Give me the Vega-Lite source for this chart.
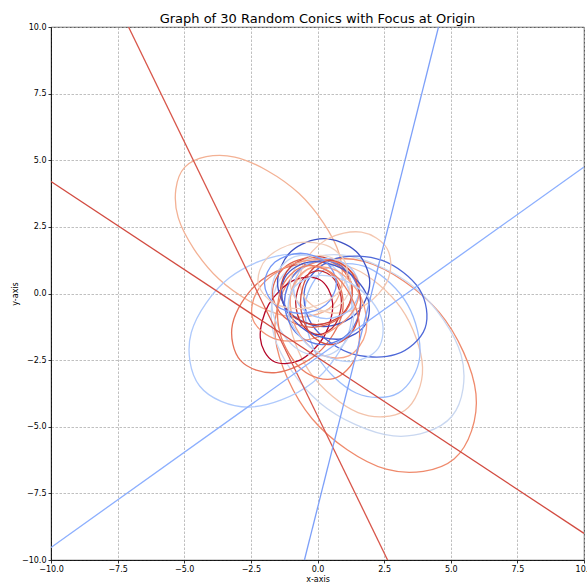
{
  "$schema": "https://vega.github.io/schema/vega-lite/v6.json",
  "width": 533,
  "height": 533,
  "autosize": {"type": "none"},
  "padding": {"left": 51, "top": 27, "right": 3, "bottom": 22},
  "background": "white",
  "title": {"text": "Graph of 30 Random Conics with Focus at Origin", "fontSize": 13, "fontWeight": "normal", "font": "DejaVu Sans", "color": "#000", "anchor": "middle", "offset": -3},
  "config": {
    "font": "DejaVu Sans",
    "view": {"stroke": "#000", "strokeWidth": 0.8},
    "axis": {"labelFontSize": 8, "titleFontSize": 8, "titleFontWeight": "normal", "labelColor": "#000", "titleColor": "#000", "tickColor": "#000", "tickSize": 3, "tickWidth": 0.8, "domainColor": "#000", "domainWidth": 0.8, "grid": true, "gridDash": [2.5, 1.5], "gridColor": "#b0b0b0", "gridWidth": 0.8, "labelPadding": 2, "titlePadding": 2, "labelFlush": false, "labelOverlap": false, "labelFont": "DejaVu Sans", "titleFont": "DejaVu Sans"}
  },
  "datasets": {
    "ell": [
      {"id":"e01","i":0,"x":0.579,"y":-0.442},{"id":"e01","i":1,"x":0.826,"y":1.455},{"id":"e01","i":2,"x":-0.7,"y":3.759},{"id":"e01","i":3,"x":-3.104,"y":5.121},{"id":"e01","i":4,"x":-4.979,"y":4.742},{"id":"e01","i":5,"x":-5.226,"y":2.845},{"id":"e01","i":6,"x":-3.7,"y":0.541},{"id":"e01","i":7,"x":-1.296,"y":-0.821},
      {"id":"e02","i":0,"x":5.124,"y":-6.208},{"id":"e02","i":1,"x":5.946,"y":-3.767},{"id":"e02","i":2,"x":4.562,"y":-0.701},{"id":"e02","i":3,"x":1.783,"y":1.194},{"id":"e02","i":4,"x":-0.764,"y":0.808},{"id":"e02","i":5,"x":-1.586,"y":-1.633},{"id":"e02","i":6,"x":-0.202,"y":-4.699},{"id":"e02","i":7,"x":2.577,"y":-6.594},
      {"id":"e03","i":0,"x":5.044,"y":-4.605},{"id":"e03","i":1,"x":5.39,"y":-2.311},{"id":"e03","i":2,"x":3.68,"y":0.195},{"id":"e03","i":3,"x":0.916,"y":1.444},{"id":"e03","i":4,"x":-1.284,"y":0.705},{"id":"e03","i":5,"x":-1.63,"y":-1.589},{"id":"e03","i":6,"x":0.08,"y":-4.095},{"id":"e03","i":7,"x":2.844,"y":-5.344},
      {"id":"e04","i":0,"x":3.271,"y":-4.39},{"id":"e04","i":1,"x":3.942,"y":-2.772},{"id":"e04","i":2,"x":3.142,"y":-0.561},{"id":"e04","i":3,"x":1.339,"y":0.948},{"id":"e04","i":4,"x":-0.411,"y":0.87},{"id":"e04","i":5,"x":-1.082,"y":-0.748},{"id":"e04","i":6,"x":-0.282,"y":-2.959},{"id":"e04","i":7,"x":1.521,"y":-4.468},
      {"id":"e05","i":0,"x":3.04,"y":-3.728},{"id":"e05","i":1,"x":3.839,"y":-2.354},{"id":"e05","i":2,"x":3.379,"y":-0.415},{"id":"e05","i":3,"x":1.93,"y":0.953},{"id":"e05","i":4,"x":0.34,"y":0.948},{"id":"e05","i":5,"x":-0.459,"y":-0.426},{"id":"e05","i":6,"x":0.001,"y":-2.365},{"id":"e05","i":7,"x":1.45,"y":-3.733},
      {"id":"e06","i":0,"x":0.903,"y":0.691},{"id":"e06","i":1,"x":-0.969,"y":1.48},{"id":"e06","i":2,"x":-3.305,"y":0.588},{"id":"e06","i":3,"x":-4.736,"y":-1.463},{"id":"e06","i":4,"x":-4.423,"y":-3.471},{"id":"e06","i":5,"x":-2.551,"y":-4.26},{"id":"e06","i":6,"x":-0.215,"y":-3.368},{"id":"e06","i":7,"x":1.216,"y":-1.317},
      {"id":"e07","i":0,"x":0.624,"y":0.639},{"id":"e07","i":1,"x":-0.709,"y":1.086},{"id":"e07","i":2,"x":-2.288,"y":0.346},{"id":"e07","i":3,"x":-3.189,"y":-1.147},{"id":"e07","i":4,"x":-2.884,"y":-2.519},{"id":"e07","i":5,"x":-1.551,"y":-2.966},{"id":"e07","i":6,"x":0.028,"y":-2.226},{"id":"e07","i":7,"x":0.929,"y":-0.733},
      {"id":"e08","i":0,"x":0.09,"y":0.514},{"id":"e08","i":1,"x":-0.902,"y":0.492},{"id":"e08","i":2,"x":-1.829,"y":-0.41},{"id":"e08","i":3,"x":-2.147,"y":-1.663},{"id":"e08","i":4,"x":-1.67,"y":-2.534},{"id":"e08","i":5,"x":-0.678,"y":-2.512},{"id":"e08","i":6,"x":0.249,"y":-1.61},{"id":"e08","i":7,"x":0.567,"y":-0.357},
      {"id":"e09","i":0,"x":1.96,"y":0.41},{"id":"e09","i":1,"x":1.453,"y":1.577},{"id":"e09","i":2,"x":0.23,"y":2.06},{"id":"e09","i":3,"x":-0.993,"y":1.577},{"id":"e09","i":4,"x":-1.5,"y":0.41},{"id":"e09","i":5,"x":-0.993,"y":-0.757},{"id":"e09","i":6,"x":0.23,"y":-1.24},{"id":"e09","i":7,"x":1.453,"y":-0.757},
      {"id":"e10","i":0,"x":4.036,"y":-1.304},{"id":"e10","i":1,"x":3.826,"y":0.157},{"id":"e10","i":2,"x":2.429,"y":1.239},{"id":"e10","i":3,"x":0.664,"y":1.308},{"id":"e10","i":4,"x":-0.436,"y":0.324},{"id":"e10","i":5,"x":-0.226,"y":-1.137},{"id":"e10","i":6,"x":1.171,"y":-2.219},{"id":"e10","i":7,"x":2.936,"y":-2.288},
      {"id":"e11","i":0,"x":2.609,"y":1.69},{"id":"e11","i":1,"x":1.647,"y":2.302},{"id":"e11","i":2,"x":0.335,"y":2.028},{"id":"e11","i":3,"x":-0.558,"y":1.029},{"id":"e11","i":4,"x":-0.509,"y":-0.11},{"id":"e11","i":5,"x":0.453,"y":-0.722},{"id":"e11","i":6,"x":1.765,"y":-0.448},{"id":"e11","i":7,"x":2.658,"y":0.551},
      {"id":"e12","i":0,"x":0.9,"y":-0.34},{"id":"e12","i":1,"x":0.648,"y":0.509},{"id":"e12","i":2,"x":0.04,"y":0.86},{"id":"e12","i":3,"x":-0.568,"y":0.509},{"id":"e12","i":4,"x":-0.82,"y":-0.34},{"id":"e12","i":5,"x":-0.568,"y":-1.189},{"id":"e12","i":6,"x":0.04,"y":-1.54},{"id":"e12","i":7,"x":0.648,"y":-1.189},
      {"id":"e13","i":0,"x":1.31,"y":0.11},{"id":"e13","i":1,"x":0.915,"y":1.015},{"id":"e13","i":2,"x":-0.04,"y":1.39},{"id":"e13","i":3,"x":-0.995,"y":1.015},{"id":"e13","i":4,"x":-1.39,"y":0.11},{"id":"e13","i":5,"x":-0.995,"y":-0.795},{"id":"e13","i":6,"x":-0.04,"y":-1.17},{"id":"e13","i":7,"x":0.915,"y":-0.795},
      {"id":"e14","i":0,"x":1.31,"y":0.04},{"id":"e14","i":1,"x":0.871,"y":0.966},{"id":"e14","i":2,"x":-0.19,"y":1.35},{"id":"e14","i":3,"x":-1.251,"y":0.966},{"id":"e14","i":4,"x":-1.69,"y":0.04},{"id":"e14","i":5,"x":-1.251,"y":-0.886},{"id":"e14","i":6,"x":-0.19,"y":-1.27},{"id":"e14","i":7,"x":0.871,"y":-0.886},
      {"id":"e15","i":0,"x":1.62,"y":-0.34},{"id":"e15","i":1,"x":1.201,"y":0.777},{"id":"e15","i":2,"x":0.19,"y":1.24},{"id":"e15","i":3,"x":-0.821,"y":0.777},{"id":"e15","i":4,"x":-1.24,"y":-0.34},{"id":"e15","i":5,"x":-0.821,"y":-1.457},{"id":"e15","i":6,"x":0.19,"y":-1.92},{"id":"e15","i":7,"x":1.201,"y":-1.457},
      {"id":"e16","i":0,"x":1.58,"y":0.19},{"id":"e16","i":1,"x":1.217,"y":0.989},{"id":"e16","i":2,"x":0.34,"y":1.32},{"id":"e16","i":3,"x":-0.537,"y":0.989},{"id":"e16","i":4,"x":-0.9,"y":0.19},{"id":"e16","i":5,"x":-0.537,"y":-0.609},{"id":"e16","i":6,"x":0.34,"y":-0.94},{"id":"e16","i":7,"x":1.217,"y":-0.609},
      {"id":"e17","i":0,"x":0.477,"y":-2.282},{"id":"e17","i":1,"x":1.279,"y":-1.383},{"id":"e17","i":2,"x":1.22,"y":0.063},{"id":"e17","i":3,"x":0.335,"y":1.208},{"id":"e17","i":4,"x":-0.857,"y":1.382},{"id":"e17","i":5,"x":-1.659,"y":0.483},{"id":"e17","i":6,"x":-1.6,"y":-0.963},{"id":"e17","i":7,"x":-0.715,"y":-2.108},
      {"id":"e18","i":0,"x":1.24,"y":0.38},{"id":"e18","i":1,"x":0.909,"y":1.122},{"id":"e18","i":2,"x":0.11,"y":1.43},{"id":"e18","i":3,"x":-0.689,"y":1.122},{"id":"e18","i":4,"x":-1.02,"y":0.38},{"id":"e18","i":5,"x":-0.689,"y":-0.362},{"id":"e18","i":6,"x":0.11,"y":-0.67},{"id":"e18","i":7,"x":0.909,"y":-0.362},
      {"id":"e19","i":0,"x":1.523,"y":0.458},{"id":"e19","i":1,"x":0.594,"y":1.211},{"id":"e19","i":2,"x":-0.946,"y":1.103},{"id":"e19","i":3,"x":-2.196,"y":0.196},{"id":"e19","i":4,"x":-2.423,"y":-0.978},{"id":"e19","i":5,"x":-1.494,"y":-1.731},{"id":"e19","i":6,"x":0.046,"y":-1.623},{"id":"e19","i":7,"x":1.296,"y":-0.716},
      {"id":"e20","i":0,"x":1.816,"y":-1.135},{"id":"e20","i":1,"x":1.849,"y":-0.052},{"id":"e20","i":2,"x":0.975,"y":0.909},{"id":"e20","i":3,"x":-0.295,"y":1.185},{"id":"e20","i":4,"x":-1.216,"y":0.615},{"id":"e20","i":5,"x":-1.249,"y":-0.468},{"id":"e20","i":6,"x":-0.375,"y":-1.429},{"id":"e20","i":7,"x":0.895,"y":-1.705},
      {"id":"e21","i":0,"x":1.171,"y":-2.341},{"id":"e21","i":1,"x":1.814,"y":-1.46},{"id":"e21","i":2,"x":1.634,"y":-0.139},{"id":"e21","i":3,"x":0.737,"y":0.847},{"id":"e21","i":4,"x":-0.351,"y":0.921},{"id":"e21","i":5,"x":-0.994,"y":0.04},{"id":"e21","i":6,"x":-0.814,"y":-1.281},{"id":"e21","i":7,"x":0.083,"y":-2.267},
      {"id":"e22","i":0,"x":0.71,"y":0.38},{"id":"e22","i":1,"x":0.315,"y":1.179},{"id":"e22","i":2,"x":-0.64,"y":1.51},{"id":"e22","i":3,"x":-1.595,"y":1.179},{"id":"e22","i":4,"x":-1.99,"y":0.38},{"id":"e22","i":5,"x":-1.595,"y":-0.419},{"id":"e22","i":6,"x":-0.64,"y":-0.75},{"id":"e22","i":7,"x":0.315,"y":-0.419},
      {"id":"e23","i":0,"x":1.62,"y":-0.34},{"id":"e23","i":1,"x":1.289,"y":0.777},{"id":"e23","i":2,"x":0.49,"y":1.24},{"id":"e23","i":3,"x":-0.309,"y":0.777},{"id":"e23","i":4,"x":-0.64,"y":-0.34},{"id":"e23","i":5,"x":-0.309,"y":-1.457},{"id":"e23","i":6,"x":0.49,"y":-1.92},{"id":"e23","i":7,"x":1.289,"y":-1.457},
      {"id":"e24","i":0,"x":1.104,"y":0.973},{"id":"e24","i":1,"x":0.465,"y":1.751},{"id":"e24","i":2,"x":-0.775,"y":1.901},{"id":"e24","i":3,"x":-1.889,"y":1.336},{"id":"e24","i":4,"x":-2.224,"y":0.387},{"id":"e24","i":5,"x":-1.585,"y":-0.391},{"id":"e24","i":6,"x":-0.345,"y":-0.541},{"id":"e24","i":7,"x":0.769,"y":0.024},
      {"id":"e25","i":0,"x":2.277,"y":-2.059},{"id":"e25","i":1,"x":2.389,"y":-0.903},{"id":"e25","i":2,"x":1.5,"y":0.231},{"id":"e25","i":3,"x":0.131,"y":0.679},{"id":"e25","i":4,"x":-0.917,"y":0.179},{"id":"e25","i":5,"x":-1.029,"y":-0.977},{"id":"e25","i":6,"x":-0.14,"y":-2.111},{"id":"e25","i":7,"x":1.229,"y":-2.559},
      {"id":"e26","i":0,"x":0.604,"y":-3.196},{"id":"e26","i":1,"x":1.463,"y":-2.305},{"id":"e26","i":2,"x":1.489,"y":-0.702},{"id":"e26","i":3,"x":0.666,"y":0.674},{"id":"e26","i":4,"x":-0.524,"y":1.016},{"id":"e26","i":5,"x":-1.383,"y":0.125},{"id":"e26","i":6,"x":-1.409,"y":-1.478},{"id":"e26","i":7,"x":-0.586,"y":-2.854}
    ],
    "lin": [
      {"id":"l1","i":0,"x":-7.09,"y":10},{"id":"l1","i":1,"x":2.63,"y":-10},
      {"id":"l2","i":0,"x":-10,"y":4.2},{"id":"l2","i":1,"x":10,"y":-9.0},
      {"id":"l3","i":0,"x":-0.49,"y":-10},{"id":"l3","i":1,"x":4.54,"y":10},
      {"id":"l4","i":0,"x":-10,"y":-9.53},{"id":"l4","i":1,"x":10,"y":4.75}
    ]
  },
  "encoding": {
    "x": {"field": "x", "type": "quantitative", "scale": {"domain": [-10, 10], "nice": false, "zero": false}, "axis": {"title": "x-axis", "values": [-10, -7.5, -5, -2.5, 0, 2.5, 5, 7.5, 10], "format": ".1f"}},
    "y": {"field": "y", "type": "quantitative", "scale": {"domain": [-10, 10], "nice": false, "zero": false}, "axis": {"title": "y-axis", "values": [-10, -7.5, -5, -2.5, 0, 2.5, 5, 7.5, 10], "format": ".1f"}},
    "color": {"field": "id", "type": "nominal", "legend": null, "scale": {
      "domain": ["e01","e02","e03","e04","e05","e06","e07","e08","e09","e10","e11","e12","e13","e14","e15","e16","e17","e18","e19","e20","e21","e22","e23","e24","e25","e26","l1","l2","l3","l4"],
      "range": ["#f3b194","#ef8a6c","#c9d7f0","#f3c3ab","#9dbdfc","#aec9fc","#e67259","#b40426","#3d50c3","#4e68d8","#f4c6af","#c0282f","#cc403a","#e0654f","#5d7ce6","#a5c3fe","#c3d5f4","#ecd3c5","#f39577","#4358cb","#f6a385","#7597f6","#d44e41","#f1cdba","#b9d0f9","#ec7f63","#d8564a","#d24b40","#7da0f9","#8caffe"]}},
    "order": {"field": "i", "type": "quantitative"}
  },
  "layer": [
    {"data": {"name": "ell"}, "mark": {"type": "line", "interpolate": "cardinal-closed", "strokeWidth": 1.3, "clip": true}},
    {"data": {"name": "lin"}, "mark": {"type": "line", "interpolate": "linear", "strokeWidth": 1.3, "clip": true}}
  ]
}
